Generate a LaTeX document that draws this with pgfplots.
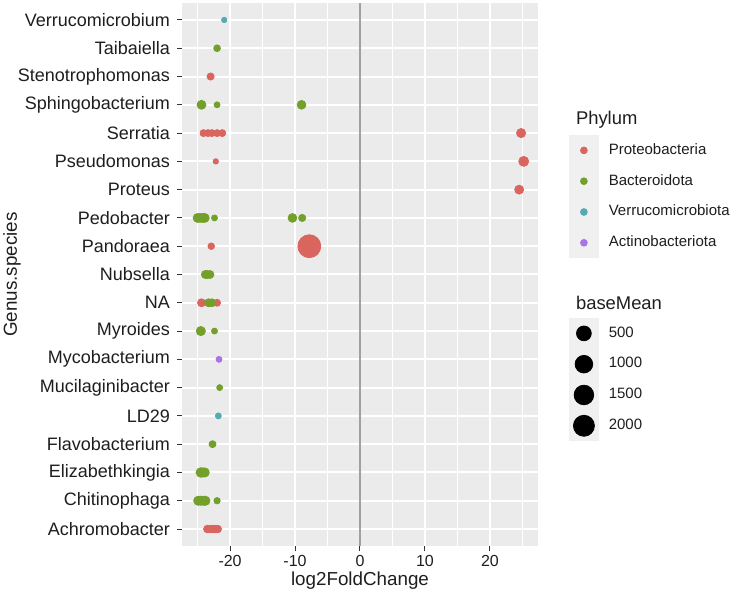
\documentclass[border=0pt]{standalone}
\usepackage{pgfplots}
\usepackage{pgfplotstable}
\pgfplotsset{compat=1.18}
\usepackage{fontspec}
\setmainfont{Liberation Sans}

\definecolor{ggbg}{HTML}{EBEBEB}
\definecolor{ggkey}{HTML}{F0F0F0}
\definecolor{ggtext}{HTML}{1E1E1E}
\definecolor{ggtick}{HTML}{333333}
\definecolor{ggvline}{HTML}{A0A0A0}
\definecolor{ggred}{HTML}{D9655E}
\definecolor{gggreen}{HTML}{72A02A}
\definecolor{ggteal}{HTML}{55AAB4}
\definecolor{ggpurple}{HTML}{A875E6}

% x = log2FoldChange, y = row (1 = Achromobacter ... 19 = Verrucomicrobium), r = marker radius (pt)
\pgfplotstableread{
x y r
-23.5 1 1.9
-23.0 1 1.9
-22.6 1 1.9
-22.2 1 1.9
-21.9 1 1.9
-24.4 9 2.0
-22.0 9 1.75
-22.9 11 1.65
-7.8 11 5.75
24.5 13 2.25
-22.2 14 1.35
25.2 14 2.5
-24.1 15 1.75
-23.4 15 1.75
-22.8 15 1.75
-22.0 15 1.75
-21.2 15 1.75
24.8 15 2.3
-23.0 17 1.8
}\proteo

\pgfplotstableread{
x y r
-24.9 2 2.3
-24.5 2 2.3
-24.1 2 2.3
-23.8 2 2.3
-22.0 2 1.6
-24.5 3 2.4
-24.2 3 2.3
-23.9 3 2.3
-22.7 4 1.75
-21.6 6 1.5
-24.5 8 2.3
-22.4 8 1.5
-23.3 9 2.0
-22.8 9 2.0
-23.8 10 2.0
-23.5 10 2.0
-23.1 10 2.0
-25.0 12 2.25
-24.6 12 2.25
-24.2 12 2.25
-23.9 12 2.25
-22.4 12 1.5
-10.4 12 2.2
-8.9 12 1.8
-24.4 16 2.25
-22.0 16 1.5
-9.0 16 2.2
-22.0 18 1.7
}\bacter

\pgfplotstableread{
x y r
-21.8 5 1.5
-20.9 19 1.35
}\verruco

\pgfplotstableread{
x y r
-21.7 7 1.5
}\actino

\pgfplotsset{
  ggscatter/.style={
    scatter, only marks, mark=*, forget plot,
    scatter/use mapped color={draw=#1, fill=#1},
    visualization depends on={\thisrow{r} \as \rad},
    scatter/@pre marker code/.append style={/tikz/mark size=\rad},
  },
  ggkeyimg/.style={
    legend image code/.code={
      \fill[ggkey] (-7.25bp,-7.5bp) rectangle (7.25bp,7.5bp);
      \fill[#1] (0,0) circle (1.7bp);
    }
  },
  ggsizeimg/.style={
    legend image code/.code={
      \fill[ggkey] (-7.25bp,-7.5bp) rectangle (7.25bp,7.5bp);
      \fill[black] (0,0) circle (#1);
    }
  },
  gglegend/.style={
    legend cell align=left,
    legend style={draw=none, fill=none, inner sep=0pt, outer sep=0pt,
      row sep=0pt, column sep=0pt,
      font=\fontsize{7.5bp}{9bp}\selectfont,
      nodes={inner sep=0pt, text=ggtext},
      /tikz/every odd column/.append style={column sep=5bp}},
  },
}

\begin{document}
\begin{tikzpicture}
\begin{axis}[
  scale only axis,
  width=178bp, height=271.5bp,
  xmin=-27.4, xmax=27.4, ymin=0.4, ymax=19.6,
  axis background/.style={fill=ggbg},
  axis line style={draw=none},
  xtick={-20,-10,0,10,20},
  xticklabels={-20,-10,0,10,20},
  minor xtick={-25,-15,-5,5,15,25},
  ytick={1,...,19},
  yticklabels={Achromobacter,Chitinophaga,Elizabethkingia,Flavobacterium,LD29,
    Mucilaginibacter,Mycobacterium,Myroides,NA,Nubsella,Pandoraea,Pedobacter,
    Proteus,Pseudomonas,Serratia,Sphingobacterium,Stenotrophomonas,Taibaiella,
    Verrucomicrobium},
  xmajorgrids, ymajorgrids, xminorgrids,
  major grid style={white, line width=1bp},
  minor grid style={white, line width=0.5bp},
  tick align=outside, tick pos=left,
  major tick length=2.5bp, minor tick length=0pt,
  tick style={ggtick, line width=0.5bp},
  yticklabel style={font=\fontsize{9bp}{10.8bp}\selectfont, text=ggtext},
  xticklabel style={font=\fontsize{8bp}{9.5bp}\selectfont, text=ggtext, yshift=1.5bp},
  clip=false,
  gglegend,
  legend style={at={(1.0871,0.7569)}, anchor=north west},
]
\addlegendimage{ggkeyimg=ggred}
\addlegendentry{Proteobacteria}
\addlegendimage{ggkeyimg=gggreen}
\addlegendentry{Bacteroidota}
\addlegendimage{ggkeyimg=ggteal}
\addlegendentry{Verrucomicrobiota}
\addlegendimage{ggkeyimg=ggpurple}
\addlegendentry{Actinobacteriota}

\addplot[ggvline, line width=0.6bp, forget plot] coordinates {(0,0.4) (0,19.6)};

\addplot[ggscatter=ggred] table[x=x, y=y] {\proteo};
\addplot[ggscatter=gggreen] table[x=x, y=y] {\bacter};
\addplot[ggscatter=ggteal] table[x=x, y=y] {\verruco};
\addplot[ggscatter=ggpurple] table[x=x, y=y] {\actino};
\end{axis}

% second legend: baseMean
\begin{axis}[
  scale only axis,
  width=178bp, height=271.5bp,
  xmin=0, xmax=1, ymin=0, ymax=1,
  hide axis,
  gglegend,
  legend style={at={(1.0871,0.4199)}, anchor=north west},
]
\addlegendimage{ggsizeimg=3.7bp}
\addlegendentry{500}
\addlegendimage{ggsizeimg=4.4bp}
\addlegendentry{1000}
\addlegendimage{ggsizeimg=4.9bp}
\addlegendentry{1500}
\addlegendimage{ggsizeimg=5.25bp}
\addlegendentry{2000}
\end{axis}

\node[anchor=base west, text=ggtext, font=\fontsize{9.2bp}{11bp}\selectfont] at (193.5bp,210.5bp) {Phylum};
\node[anchor=base west, text=ggtext, font=\fontsize{9.2bp}{11bp}\selectfont] at (193.5bp,118bp) {baseMean};
\node[anchor=base, text=ggtext, font=\fontsize{9.4bp}{11bp}\selectfont] at (89bp,-19.5bp) {log2FoldChange};
\node[anchor=base, rotate=90, text=ggtext, font=\fontsize{9.4bp}{11bp}\selectfont] at (-82.5bp,135.75bp) {Genus.species};

\pgfresetboundingbox
\path[use as bounding box] (-91bp,-24bp) rectangle (277bp,273bp);
\end{tikzpicture}
\end{document}
